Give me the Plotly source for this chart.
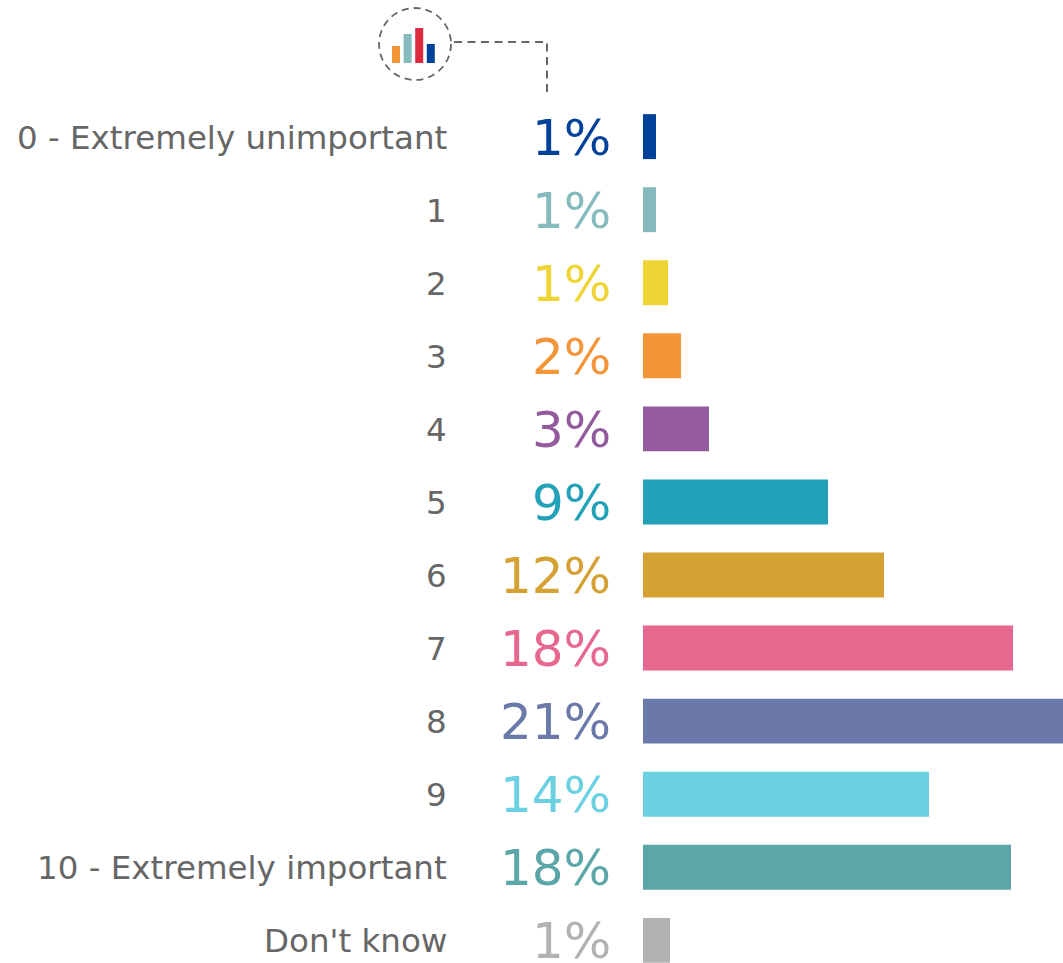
import plotly.graph_objects as go

W, H = 1063, 963
categories = ["0 - Extremely unimportant", "1", "2", "3", "4", "5", "6", "7", "8", "9",
              "10 - Extremely important", "Don't know"]
values = [0.65, 0.65, 1.25, 1.9, 3.3, 9.25, 12.05, 18.5, 21.0, 14.3, 18.4, 1.35]
value_labels = ["1%", "1%", "1%", "2%", "3%", "9%", "12%", "18%", "21%", "14%", "18%", "1%"]
colors = ["#004299", "#85BBBD", "#EED535", "#F39639", "#945A9E", "#22A1B9", "#D4A132",
          "#E6688E", "#6A79A9", "#6BD1E2", "#5BA6A8", "#B2B2B2"]

icon_heights = [17, 29, 35, 19]
icon_colors = ["#F39639", "#85BBBD", "#DC2A40", "#004299"]

fig = go.Figure(go.Bar(
    y=categories, x=values, orientation="h", width=0.615,
    marker=dict(color=colors, line_width=0), hoverinfo="skip",
))

def px(x): return x / W
def py(y): return 1 - y / H

annotations = []
for c, lab, col in zip(categories, value_labels, colors):
    annotations.append(dict(text=c, x=px(447), xref="paper", y=c, yref="y", xanchor="right",
                            yanchor="middle", showarrow=False, yshift=-1,
                            font=dict(size=32.5, color="#666666"), xshift=2))
    annotations.append(dict(text=lab, x=px(611), xref="paper", y=c, yref="y", xanchor="right",
                            yanchor="middle", showarrow=False, yshift=-1,
                            font=dict(size=50, color=col), xshift=2))

dash_line = dict(color="#666666", width=2, dash="8px,5.5px")
shapes = [
    dict(type="circle", xref="paper", yref="paper", x0=px(379), x1=px(451), y0=py(8), y1=py(80),
         line=dict(color="#666666", width=1.8, dash="7px,5px")),
    dict(type="path", xref="paper", yref="paper",
         path=f"M {px(454)} {py(42)} L {px(547)} {py(42)} L {px(547)} {py(92)}",
         line=dash_line),
]
for i, (h, col) in enumerate(zip(icon_heights, icon_colors)):
    x0 = 392 + i * 11.6
    shapes.append(dict(type="rect", xref="paper", yref="paper", x0=px(x0), x1=px(x0 + 8),
                       y0=py(63), y1=py(63 - h), fillcolor=col, line_width=0))

fig.update_layout(
    width=W, height=H, margin=dict(l=0, r=0, t=0, b=0),
    paper_bgcolor="white", plot_bgcolor="white", showlegend=False,
    font=dict(family="DejaVu Sans"),
    xaxis=dict(range=[-32.15, 21], visible=False, fixedrange=True),
    yaxis=dict(type="category", categoryorder="array", categoryarray=categories,
               autorange=False, range=[11.31, -1.87], visible=False, fixedrange=True),
    annotations=annotations, shapes=shapes,
)
fig.write_html("out.html", post_script="document.body.style.margin='0';document.body.style.overflow='hidden';",
               config={"displayModeBar": False})
